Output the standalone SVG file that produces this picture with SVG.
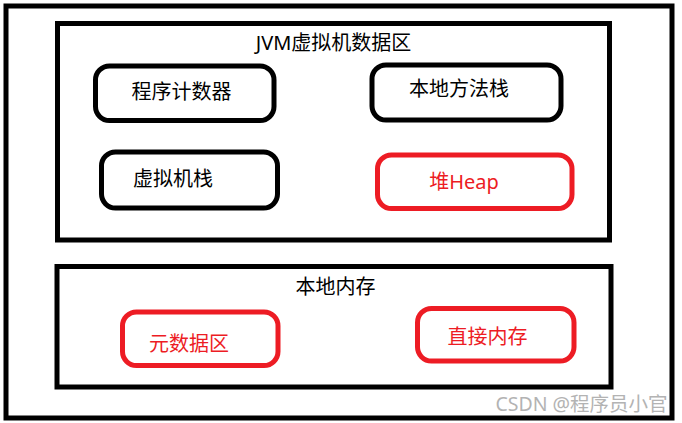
<svg xmlns="http://www.w3.org/2000/svg" width="682" height="423" viewBox="0 0 682 423">
<style>
  .frame{fill:none;stroke:#000;stroke-width:5}
  .node{fill:none;stroke:#000;stroke-width:5}
  .node.red{stroke:#ed1c24}
  text{font-family:"Noto Sans","Noto Sans CJK SC",sans-serif;font-size:20px;fill:#000;text-anchor:middle}
  text.red{fill:#ed1c24}
  text.wm{fill:#b3b3b3;font-size:19.5px}
</style>
<rect width="682" height="423" fill="#fff"/>
<g id="outer"><rect class="frame" x="6" y="6" width="666" height="412"/></g>
<g id="jvm">
  <rect class="frame" x="57.5" y="23.5" width="552" height="216.5"/>
  <text x="333.5" y="49.5">JVM虚拟机数据区</text>
</g>
<g id="native-memory">
  <rect class="frame" x="57" y="266.5" width="554" height="120.5"/>
  <text x="335.5" y="293.5">本地内存</text>
</g>
<g id="pc">
  <rect class="node" x="95.5" y="66" width="178.5" height="54.5" rx="14"/>
  <text x="181.5" y="98.5">程序计数器</text>
</g>
<g id="native-stack">
  <rect class="node" x="372" y="65" width="189" height="55" rx="14"/>
  <text x="459" y="95.5">本地方法栈</text>
</g>
<g id="vm-stack">
  <rect class="node" x="101.5" y="152" width="176" height="56" rx="14"/>
  <text x="173" y="185.5">虚拟机栈</text>
</g>
<g id="heap">
  <rect class="node red" x="377.5" y="155" width="194.5" height="53.5" rx="14"/>
  <text class="red" x="464" y="189">堆Heap</text>
</g>
<g id="metaspace">
  <rect class="node red" x="122.5" y="312" width="155.5" height="53.5" rx="14"/>
  <text class="red" x="189" y="350.5">元数据区</text>
</g>
<g id="direct-memory">
  <rect class="node red" x="417.5" y="308.5" width="156.5" height="52.5" rx="14"/>
  <text class="red" x="487.5" y="343.5">直接内存</text>
</g>
<g id="connectors"></g>
<text class="wm" x="581.5" y="411">CSDN @程序员小官</text>
</svg>
